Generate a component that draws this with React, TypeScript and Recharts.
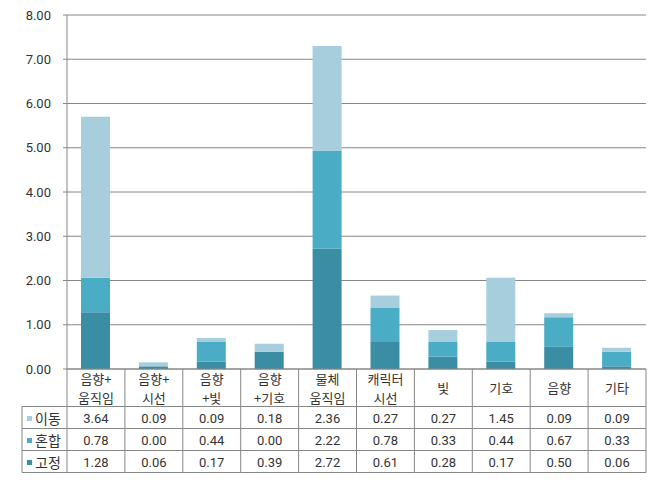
import React from 'react';
import { BarChart, Bar, XAxis, YAxis, CartesianGrid } from 'recharts';

// categories (header row of the table), "\n" splits the two lines
const categories = [
  '음향+\n움직임',
  '음향+\n시선',
  '음향\n+빛',
  '음향\n+기호',
  '물체\n움직임',
  '캐릭터\n시선',
  '빛',
  '기호',
  '음향',
  '기타',
];

const moveValues = [3.64, 0.09, 0.09, 0.18, 2.36, 0.27, 0.27, 1.45, 0.09, 0.09]; // 이동
const mixValues = [0.78, 0.0, 0.44, 0.0, 2.22, 0.78, 0.33, 0.44, 0.67, 0.33]; // 혼합
const fixedValues = [1.28, 0.06, 0.17, 0.39, 2.72, 0.61, 0.28, 0.17, 0.5, 0.06]; // 고정

const yTicks = [0, 1, 2, 3, 4, 5, 6, 7, 8];

const series = [
  { key: 'move', name: '이동', values: moveValues, color: '#A6CEDD' },
  { key: 'mix', name: '혼합', values: mixValues, color: '#4BACC6' },
  { key: 'fixed', name: '고정', values: fixedValues, color: '#3B8DA3' },
];

const data = categories.map((c, i) => ({
  cat: c,
  move: moveValues[i],
  mix: mixValues[i],
  fixed: fixedValues[i],
}));

const WIDTH = 660;
const HEIGHT = 480;
const Y_AXIS_W = 67;
const RIGHT = 14;
const BAND = (WIDTH - Y_AXIS_W - RIGHT) / categories.length;
const HEADER_H = 37.5;
const ROW_H = 22;
const LINE = '#868686';
const TEXT = '#333';
const FONT = "Roboto, 'Noto Sans CJK KR', sans-serif";
const KR_FONT = "'Noto Sans CJK KR', Roboto, sans-serif";

const TableTick = (props: any) => {
  const { x, y, payload } = props;
  const index = props.index ?? payload.index ?? 0;
  const half = BAND / 2;
  const lines = String(payload.value).split('\n');
  const bottom = HEADER_H + ROW_H * series.length;
  const rows = series.map((s, r) => ({ ...s, top: HEADER_H + ROW_H * r }));
  const firstY = lines.length === 1 ? HEADER_H / 2 : 9.5;

  return (
    <g fill={TEXT}>
      {lines.map((l, k) => (
        <text
          key={k}
          x={x}
          y={y + firstY + k * 19}
          textAnchor="middle"
          dominantBaseline="central"
          fontFamily={KR_FONT}
          fontSize={13}
        >
          {l}
        </text>
      ))}
      <g fontFamily={FONT} fontSize={13}>
        {rows.map((s) => (
          <text key={s.key} x={x} y={y + s.top + ROW_H / 2 + 1} textAnchor="middle" dominantBaseline="central">
            {s.values[index].toFixed(2)}
          </text>
        ))}
      </g>
      {/* column lines */}
      <line x1={x + half} x2={x + half} y1={y} y2={y + bottom} stroke={LINE} />
      {index === 0 && <line x1={x - half} x2={x - half} y1={y} y2={y + bottom} stroke={LINE} />}
      {rows.map((s) => (
        <line key={s.key} x1={x - half} x2={x + half} y1={y + s.top} y2={y + s.top} stroke={LINE} />
      ))}
      <line x1={x - half} x2={x + half} y1={y + bottom} y2={y + bottom} stroke={LINE} />
      {/* row labels with legend markers */}
      {index === 0 && (
        <g>
          <line x1={x - half - 45} x2={x - half - 45} y1={y + HEADER_H} y2={y + bottom} stroke={LINE} />
          {rows.map((s) => (
            <g key={s.key}>
              <line x1={x - half - 45} x2={x - half} y1={y + s.top} y2={y + s.top} stroke={LINE} />
              <rect x={x - half - 40} y={y + s.top + ROW_H / 2 - 1.5} width={5} height={5} fill={s.color} />
              <text
                x={x - half - 32}
                y={y + s.top + ROW_H / 2}
                dominantBaseline="central"
                fontFamily={KR_FONT}
                fontSize={14}
              >
                {s.name}
              </text>
            </g>
          ))}
          <line x1={x - half - 45} x2={x - half} y1={y + bottom} y2={y + bottom} stroke={LINE} />
        </g>
      )}
    </g>
  );
};

export default function App() {
  return (
    <div style={{ position: 'absolute', left: 0, top: 0, width: WIDTH, height: HEIGHT, background: '#fff' }}>
      <BarChart
        width={WIDTH}
        height={HEIGHT}
        data={data}
        margin={{ top: 15, right: RIGHT, left: 0, bottom: 7 }}
        barSize={29}
      >
        <CartesianGrid vertical={false} stroke={LINE} />
        <YAxis
          type="number"
          width={Y_AXIS_W}
          domain={[0, 8]}
          ticks={yTicks}
          tickFormatter={(v: number) => v.toFixed(2)}
          tick={{ fill: TEXT, fontSize: 13, fontFamily: FONT }}
          tickSize={4}
          tickMargin={12}
          axisLine={{ stroke: LINE }}
          tickLine={{ stroke: LINE }}
        />
        <XAxis
          dataKey="cat"
          type="category"
          height={104}
          interval={0}
          tickSize={0}
          tickMargin={0}
          tickLine={false}
          axisLine={{ stroke: LINE }}
          tick={TableTick}
        />
        <Bar dataKey="fixed" stackId="a" fill="#3B8DA3" isAnimationActive={false} />
        <Bar dataKey="mix" stackId="a" fill="#4BACC6" isAnimationActive={false} />
        <Bar dataKey="move" stackId="a" fill="#A6CEDD" isAnimationActive={false} />
      </BarChart>
    </div>
  );
}
